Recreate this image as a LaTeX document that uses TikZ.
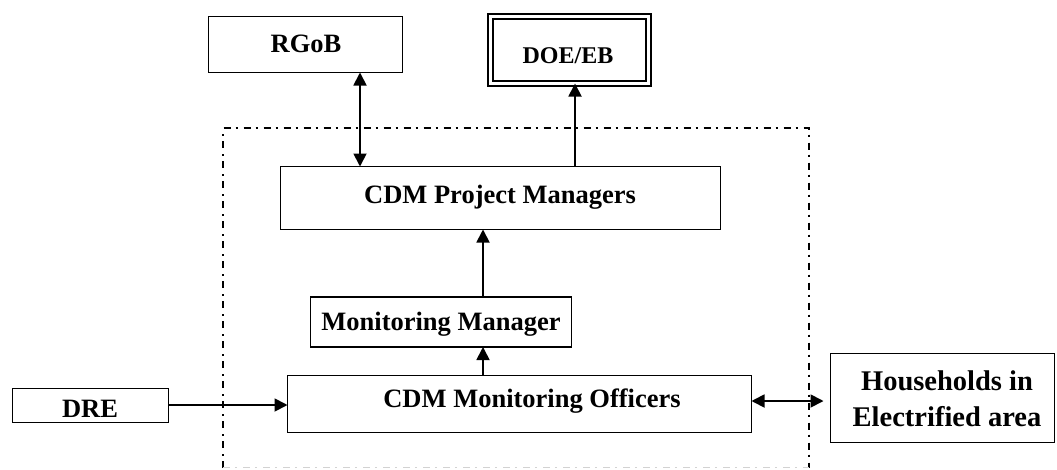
\documentclass[tikz,border=0pt]{standalone}
\usepackage{fontspec}
\setmainfont{Liberation Serif}
\usetikzlibrary{arrows.meta}

\tikzset{
  box/.style={draw, line width=1.8pt, inner sep=0pt, outer sep=0pt, rectangle},
  dbox/.style={box, double, double distance=2.6pt},
  lbl/.style={font=\bfseries\fontsize{26.5}{36}\selectfont, anchor=base, inner sep=0pt},
  conn/.style={line width=1.8pt, arrows={-Triangle[length=13pt,width=13pt]}},
  biconn/.style={line width=1.8pt, arrows={Triangle[length=13pt,width=13pt]-Triangle[length=13pt,width=13pt]}},
  frame/.style={line width=1.5pt, dash pattern=on 7pt off 5pt on 2pt off 6pt}
}

\begin{document}
\begin{tikzpicture}[x=1pt, y=-1pt]
  \useasboundingbox (0,0) rectangle (1057,469);

  % dash-dotted project boundary
  \draw[frame] (223,467.5) -- (223,128) -- (809,128) -- (809,467.5);
  \draw[frame, gray!35] (223,467.5) -- (809,467.5);

  % boxes
  \node[box, minimum width=194pt, minimum height=56pt] (rgob) at (305.5,44.5) {};
  \node[dbox, minimum width=158pt, minimum height=67pt] (doe) at (569.5,50) {};
  \node[box, minimum width=440pt, minimum height=63pt] (pm) at (500.5,198) {};
  \node[box, minimum width=261pt, minimum height=50pt] (mm) at (441,322) {};
  \node[box, minimum width=464pt, minimum height=57pt] (cmo) at (519.5,404) {};
  \node[box, minimum width=156pt, minimum height=34pt] (dre) at (90.5,405.5) {};
  \node[box, minimum width=224pt, minimum height=89pt] (hh) at (942.5,398) {};

  % box texts
  \node[lbl] (t-rgob) at (306,52) {RGoB};
  \node[lbl, font=\bfseries\fontsize{24}{30}\selectfont] (t-doe) at (568,63) {DOE/EB};
  \node[lbl] (t-pm) at (500,203) {CDM Project Managers};
  \node[lbl] (t-mm) at (441,330) {Monitoring Manager};
  \node[lbl] (t-cmo) at (532,407) {CDM Monitoring Officers};
  \node[lbl] (t-dre) at (90,417) {DRE};
  \node[lbl, font=\bfseries\fontsize{28.5}{36}\selectfont] (t-hh1) at (947,390) {Households in};
  \node[lbl, font=\bfseries\fontsize{28.5}{36}\selectfont] (t-hh2) at (947,426) {Electrified area};

  % connector columns and rows
  \coordinate (c-rgob) at (360,0);
  \coordinate (c-doe) at (575,0);
  \coordinate (c-mid) at (483,0);
  \coordinate (r-dre) at (0,405);
  \coordinate (r-hh) at (0,401);

  % connectors
  \draw[biconn] (rgob.south -| c-rgob) -- (pm.north -| c-rgob);
  \draw[conn] (pm.north -| c-doe) -- (doe.south -| c-doe);
  \draw[conn] (mm.north -| c-mid) -- (pm.south -| c-mid);
  \draw[conn] (cmo.north -| c-mid) -- (mm.south -| c-mid);
  \draw[conn] (dre.east |- r-dre) -- (cmo.west |- r-dre);
  \draw[biconn, shorten >=7pt] (cmo.east |- r-hh) -- (hh.west |- r-hh);
\end{tikzpicture}
\end{document}
